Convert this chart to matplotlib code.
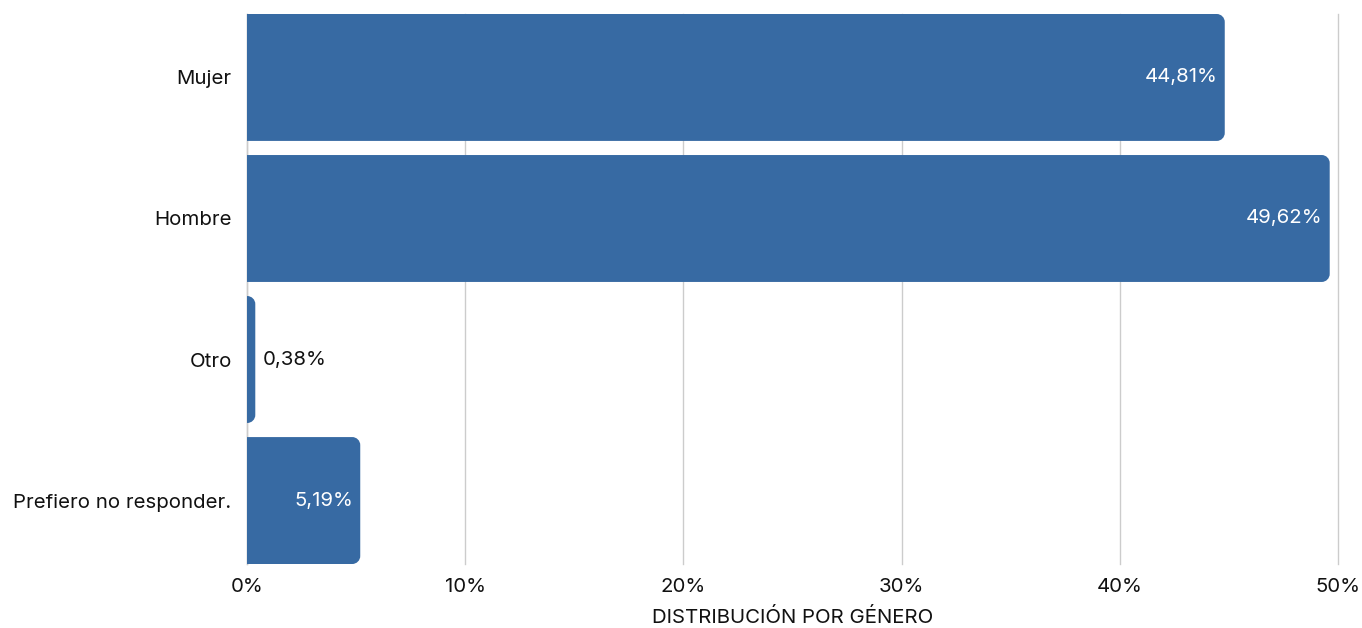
import matplotlib.pyplot as plt
from matplotlib.path import Path
from matplotlib.patches import PathPatch
from matplotlib.ticker import FuncFormatter

categorias = ['Mujer', 'Hombre', 'Otro', 'Prefiero no responder.']
valores = [44.81, 49.62, 0.38, 5.19]
etiquetas = ['44,81%', '49,62%', '0,38%', '5,19%']
xticks = [0, 10, 20, 30, 40, 50]

plt.rcParams['font.family'] = ['Inter', 'DejaVu Sans']
color_barra = '#376aa3'
fs = 14.7

fig = plt.figure(figsize=(13.62, 6.28), dpi=100)
ax = fig.add_axes([247 / 1362, 1 - 564 / 628, (1338 - 247) / 1362, 550 / 628])

pos = list(range(len(categorias)))
bars = ax.barh(pos, valores, height=0.9, color='none')
ax.set_xlim(0, 50)
ax.set_ylim(3.45, -0.45)

# radio de las esquinas: 8 px pasados a unidades de datos
r_px = 8
rx0 = r_px * 50 / 1091
ry = r_px / 141
k = 0.5523

for b in bars:
    x0, y0 = b.get_x(), b.get_y()
    w, h = b.get_width(), b.get_height()
    rx = min(rx0, w)
    x1, y1 = x0 + w, y0 + h
    verts = [
        (x0, y0),
        (x1 - rx, y0),
        (x1 - rx + k * rx, y0), (x1, y0 + ry - k * ry), (x1, y0 + ry),
        (x1, y1 - ry),
        (x1, y1 - ry + k * ry), (x1 - rx + k * rx, y1), (x1 - rx, y1),
        (x0, y1),
        (x0, y0),
    ]
    codes = [Path.MOVETO, Path.LINETO,
             Path.CURVE4, Path.CURVE4, Path.CURVE4,
             Path.LINETO,
             Path.CURVE4, Path.CURVE4, Path.CURVE4,
             Path.LINETO, Path.CLOSEPOLY]
    ax.add_patch(PathPatch(Path(verts, codes), facecolor=color_barra,
                           edgecolor='none', zorder=3))

for p, v, t in zip(pos, valores, etiquetas):
    if v > 3:
        ax.text(v - 0.33, p, t, ha='right', va='center', color='white',
                fontsize=fs, zorder=4)
    else:
        ax.text(v + 0.33, p, t, ha='left', va='center', color='#111111',
                fontsize=fs, zorder=4)

ax.set_yticks(pos)
ax.set_yticklabels(categorias, fontsize=fs, color='#111111')
ax.set_xticks(xticks)
ax.xaxis.set_major_formatter(FuncFormatter(lambda x, _: f'{x:.0f}%'))
ax.tick_params(axis='x', labelsize=fs, colors='#111111', length=0, pad=10)
ax.tick_params(axis='y', length=0, pad=11)
ax.grid(axis='x', color='#cccccc', linewidth=1, zorder=0)
for gl in ax.get_xgridlines():
    gl.set_clip_on(False)
ax.set_axisbelow(True)
for s in ['top', 'right', 'bottom']:
    ax.spines[s].set_visible(False)
ax.spines['left'].set_color('#cccccc')
ax.spines['left'].set_linewidth(1)
ax.set_xlabel('DISTRIBUCIÓN POR GÉNERO', fontsize=fs, color='#111111', labelpad=9)

fig.savefig('out.png', dpi=100)
